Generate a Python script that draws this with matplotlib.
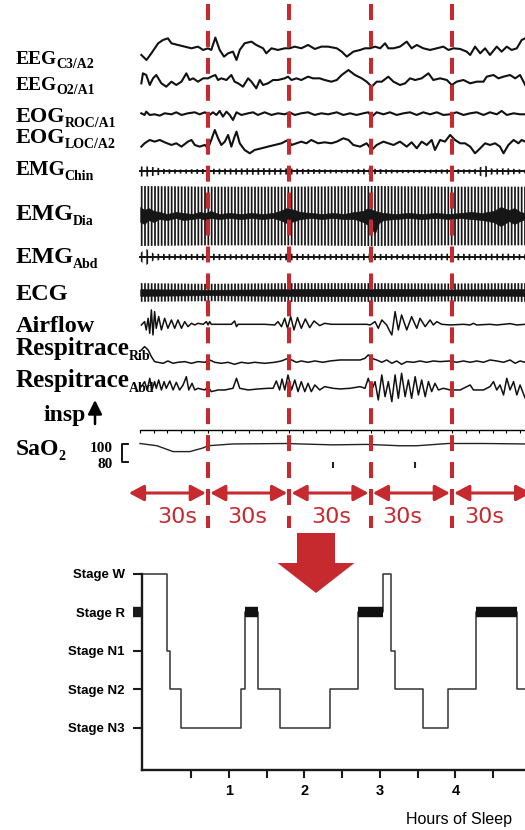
import numpy as np
import matplotlib
matplotlib.use('Agg')
import matplotlib.pyplot as plt
from matplotlib import font_manager
from matplotlib.patches import FancyArrow
from matplotlib.ticker import MultipleLocator

plt.rcParams['lines.scale_dashes'] = False
plt.rcParams['hatch.linewidth'] = 1.25

RED = '#c62a2f'
SERIF = 'Liberation Serif'
_names = {f.name for f in font_manager.fontManager.ttflist}
NARROW = 'Liberation Sans Narrow' if 'Liberation Sans Narrow' in _names else 'Liberation Sans'

# ---------------- PSG traces: time (s) and amplitude (arbitrary units) ----------------
eeg_c3_t = [5.4, 7.3, 9.1, 11.6, 13.4, 15.2, 16.5, 18.9, 21.4, 23.9, 26.3, 28.2, 30.0, 31.2, 32.7, 34.3,
            35.9, 37.4, 39.2, 40.5, 41.7, 43.5, 46.0, 47.8, 50.3, 51.5, 53.4, 55.8, 58.3, 60.1, 62.0, 64.4,
            66.9, 69.4, 71.8, 74.3, 77.5, 79.3, 81.2, 83.6, 86.1, 87.9, 89.8, 91.6, 93.5, 95.3, 96.5, 98.4,
            100.8, 103.3, 105.1, 107.0, 109.4, 111.9, 114.4, 116.8, 118.7, 120.5, 123.0, 125.4, 126.7, 128.5,
            130.4, 132.2, 134.0, 136.5, 138.3, 140.2, 142.0, 143.9, 145.7, 147.0]
eeg_c3_v = [-20, -35, -15, 15, 25, 30, 15, 10, 5, 0, 5, -5, 0, -5, 32, -5,
            -25, -15, -10, -35, -5, 15, 20, 10, 0, -15, 0, -5, 0, 0, 5, 0,
            10, -2, 5, 5, 0, -10, -25, -10, -5, 0, 0, 5, 0, 15, 0, 0,
            5, 20, 0, 10, 0, -5, 0, 5, -5, 0, -2, -10, -20, 5,
            -15, 0, -20, 5, -10, 5, -5, 0, 25, 30]

eeg_o2_t = [5.4, 6.0, 7.2, 8.5, 9.7, 10.9, 12.8, 14.6, 16.5, 18.3, 20.2, 22.0, 23.2, 24.5, 26.3, 28.2,
            30.0, 31.2, 32.7, 33.7, 34.9, 36.8, 38.6, 39.8, 41.1, 42.9, 44.8, 46.0, 47.8, 49.1, 50.3, 52.1,
            54.0, 55.8, 58.3, 59.5, 60.8, 62.6, 64.4, 66.9, 68.7, 71.2, 73.0, 75.5,
            77.5, 79.3, 81.8, 84.2, 86.7, 88.5, 90.4, 92.2, 94.1, 96.5, 98.4, 100.8, 102.7, 104.5, 106.4,
            108.8, 111.3, 113.1, 115.6, 118.1, 119.9, 121.7, 124.2, 126.7, 129.1, 131.6, 132.8, 135.3,
            137.1, 139.0, 141.4, 143.3, 145.1, 147.0]
eeg_o2_v = [-10, 20, 15, -15, 5, 15, -10, -20, -5, -15, -5, 20, 0, 5, -5, 5,
            5, 10, 15, 0, 5, 0, 15, -5, -10, -20, 5, -5, -25, 0, -15, -10,
            0, 0, 5, 10, 0, 5, 0, 10, 5, 5, 0, -5,
            0, 15, 30, 15, 5, -5, -20, -5, -5, 10, -5, -15, -10, 5, 0,
            5, 20, 0, 5, 0, -15, -5, 0, -10, -5, -5, 10, 15,
            5, 10, 15, 5, 15, -15]

eog_roc_t = [5.4, 6.6, 7.2, 8.5, 10.3, 12.2, 14.0, 16.5, 18.3, 20.2, 22.6, 25.1, 26.9, 28.8, 30.6, 31.8,
             33.1, 34.3, 35.5, 36.8, 38.0, 39.2, 40.5, 42.3, 44.8, 46.6, 48.4, 50.9, 53.4, 55.8, 58.3, 60.1,
             62.0, 64.4, 66.9, 69.4, 71.8, 74.3,
             77.5, 79.9, 82.4, 84.8, 87.3, 89.1, 90.4, 92.2, 94.7, 97.1, 99.6, 102.1, 104.5, 107.0, 109.4,
             111.9, 114.4, 116.8, 119.3, 121.7, 124.2, 126.7, 129.1, 131.6, 134.0, 136.5, 138.3, 140.2,
             142.7, 145.1, 147.0]
eog_roc_v = [3, -2, 8, -2, 0, -4, 3, 0, 6, -2, 3, 6, 0, 6, -2, 6,
             -2, 10, -7, 8, -2, -17, 6, -2, 3, 6, -2, 6, -2, 3, 0, 6,
             -2, 3, 6, -2, 3, 0,
             6, -2, 3, -2, 3, 6, -7, 6, 0, 6, -2, 3, 6, -2, 6,
             0, 6, -2, 0, 6, -2, 3, 6, -2, 6, 0, 10, -2,
             3, 0, 0]

eog_loc_t = [5.4, 6.6, 8.5, 10.3, 12.2, 14.0, 16.5, 18.3, 20.2, 22.6, 23.9, 25.1, 26.9, 28.8, 30.0, 31.2,
             32.5, 33.7, 34.9, 36.2, 37.4, 38.6, 39.8, 40.5, 41.7, 43.5, 45.4, 47.2, 49.7, 52.1, 54.6, 57.1,
             59.5, 60.8, 62.6, 64.4, 66.3, 68.1, 70.6, 73.0, 75.5,
             77.5, 79.9, 81.8, 83.6, 86.1, 88.5, 90.4, 92.2, 94.7, 96.5, 98.4, 100.8, 103.3, 105.1, 107.0,
             108.8, 110.7, 112.5, 113.7, 115.6, 117.4, 119.3, 121.1, 123.0, 124.8, 126.7, 128.5, 130.4,
             132.2, 134.0, 135.9, 137.7, 139.0, 140.8, 142.7, 144.5, 145.7, 147.0]
eog_loc_v = [-10, 0, 10, 5, 10, 3, -5, 0, -10, 5, 10, -5, -10, -5, -15, 10,
             40, 15, -5, 5, 25, -10, 20, 35, 0, -20, -30, -20, -15, -10, -5, 0,
             10, -5, 0, 5, 0, 10, 0, 3, 0,
             5, 15, 10, -5, -10, 0, -20, -5, 5, 0, -5, 5, -10, 3, -15,
             5, -5, 10, -20, 10, 5, 25, 10, 0, 0, -10, -30, -15,
             0, -5, 0, -10, -30, -5, 10, 0, 10, 5]

airflow_t = [5.4, 6.6, 7.2, 7.9, 8.5, 9.1, 9.7, 10.3, 10.9, 11.8, 12.8, 14.0, 15.2, 16.5, 17.7, 18.9,
             20.2, 21.4, 22.6, 23.9, 25.1, 26.3, 28.2, 29.4, 30.0, 30.6, 31.2, 33.7, 36.2, 38.6, 39.8, 40.5,
             41.1, 46.0, 50.9, 54.6, 55.8, 57.1, 58.3, 59.3, 60.5, 61.7, 63.0, 64.4, 65.9, 67.5, 69.1, 71.2,
             73.0, 75.5, 88.5, 89.8, 91.6, 92.8, 94.1, 95.9, 97.1, 97.8, 99.0, 100.2, 101.4, 103.3, 105.1,
             107.0, 108.2, 110.1, 111.9, 113.1, 114.4, 116.2, 119.3, 124.2, 126.7, 127.9, 129.1, 134.0,
             136.5, 139.0, 141.4, 143.9, 147.0]
airflow_v = [-2, 8, -17, 18, -27, 43, -32, 38, -12, 23, -17, 18, -12, 13, -12, 13,
             -12, 8, -7, 3, -2, 3, 0, 8, -2, 8, 0, 0, 0, 0, 10, -7,
             0, 0, 0, -2, 8, -7, 18, -12, 23, -17, 20, -12, 16, -10, 10, -4,
             3, 0, 0, -2, 8, -12, 13, -2, -22, -32, 38, -17, 28, -17, 23,
             -12, 18, -7, 13, -2, 8, 0, -2, 0, -2, 3, -2, 0,
             -2, 0, 2, -2, 0]

rib_t = [5.4, 6.6, 7.9, 9.1, 10.3, 11.5, 13.4, 15.2, 17.1, 18.9, 21.4, 23.9, 26.3, 28.8, 30.6, 32.5,
         34.9, 37.4, 39.8, 42.3, 44.8, 47.2, 50.9, 54.6, 57.1, 59.5, 60.8, 62.6, 64.4, 66.9, 69.4, 72.4,
         75.0, 78.7, 82.4, 86.1, 87.9, 89.1, 90.4, 92.2, 94.1, 95.9, 97.8, 99.6, 101.4, 103.3, 105.8,
         108.2, 110.7, 113.1, 115.6, 119.3, 121.7, 124.2, 126.7, 129.1, 131.6, 134.0, 136.5, 139.0,
         141.4, 143.3, 145.1, 147.0]
rib_v = [37, 47, 37, 17, 2, 0, -3, 4, -3, 0, 2, -3, 2, 0, 7, 0,
         -3, 0, -6, 0, -3, 0, -3, 0, 4, 12, 7, 0, 4, 0, 4, 0,
         4, 7, 7, 7, 12, 22, 12, 7, 0, 7, -3, 4, -6, 2, 0,
         4, 0, 4, 2, 4, 0, 4, 0, 4, 0, 7, 4, 0,
         7, -3, 4, 0]

rabd_t = [5.4, 6.6, 7.6, 8.5, 9.3, 10.3, 10.9, 11.8, 12.8, 13.8, 14.6, 15.9, 17.1, 18.3, 19.5, 20.8,
          22.0, 22.9, 24.1, 25.1, 26.3, 28.8, 30.0, 31.2, 33.7, 36.2, 39.2, 40.5, 41.7, 44.8, 48.4, 52.1,
          54.0, 55.2, 56.4, 57.3, 58.3, 59.5, 60.8, 62.0, 63.2, 64.4, 65.7, 66.9, 68.1, 69.4, 71.2, 73.0,
          76.1, 78.7, 82.4, 86.1, 87.9, 89.1, 90.4, 91.6, 92.8, 94.1, 95.3, 96.5, 97.8, 99.0, 100.2,
          101.4, 102.7, 103.9, 105.1, 106.4, 107.6, 108.8, 110.1, 111.3, 112.5, 113.7, 115.0, 116.8,
          119.3, 123.0, 126.7, 127.9, 131.6, 134.0, 135.3, 136.5, 137.7, 139.0, 140.2, 141.4, 142.7,
          143.9, 145.1, 147.0]
rabd_v = [5, 20, -5, 30, -5, 20, 0, 25, -5, 20, 0, 22, -5, 18, -5, 10,
          35, -5, 15, -5, 0, -5, 5, -10, -5, -5, 0, 30, 0, -5, -2, 0,
          0, 22, -5, 28, -5, 40, -5, 25, -10, 20, -10, 15, -10, 10, -5, 5,
          0, -2, 0, 5, 0, 30, -5, 20, -35, 40, -25, 20, -40, 40, -30,
          45, -25, 25, -30, 35, -20, 25, -25, 20, -10, 15, -5, 0,
          -5, -5, 10, -5, -5, 5, 20, -5, 10, -20, 30, -5, 20,
          -20, 10, -30]

sao2_t = [4.9, 11.2, 17.1, 23.3, 28.1, 30.0, 39.2, 59.2, 63.9, 76.1, 88.6, 100.8, 107.0, 118.5, 131.4, 147.0]
sao2_v = [100, 97.5, 91, 91, 95, 97.5, 99.5, 100, 99.5, 98.5, 99, 97.5, 97.5, 100, 100, 99.5]
sao2_drop_t = [76.1, 106.3]
sao2_drop_v = [76, 76]

# EMG / ECG envelopes (half amplitude, arbitrary units)
chin_t = [5, 8, 11, 14, 20, 30, 40, 50, 60, 70, 80, 89, 100, 110, 120, 128, 132, 135, 140, 147]
chin_amp = [15, 15, 12, 7, 6, 8, 9, 10, 9, 7, 5, 9, 5, 5, 7, 6, 18, 8, 10, 5]
dia_t = [5, 30, 60, 90, 120, 147]
dia_amp = [90, 88, 88, 90, 88, 88]
dia_core_t = [5, 6.5, 8, 10, 12, 15, 18, 21, 24, 27, 29, 31, 34, 38, 42, 46, 50, 54, 56.6, 59,
              62, 64, 68, 72, 76, 80, 84, 87.3, 89, 91.6, 93, 94.7, 99, 104, 109, 114, 119, 123, 127, 131,
              135.3, 138, 141, 143, 145.1, 147]
dia_core_up = [27, 18, 24, 15, 12, 6, 12, 9, 6, 12, 9, 15, 6, 9, 6, 9, 6, 9, 15, 24,
               18, 12, 9, 6, 9, 6, 12, 15, 24, 15, 12, 9, 6, 9, 6, 9, 6, 9, 12, 9,
               15, 27, 18, 24, 12, 9]
dia_core_lo = [18, 24, 12, 18, 9, 12, 6, 12, 9, 6, 12, 6, 9, 6, 9, 6, 9, 6, 12, 21,
               15, 9, 6, 9, 6, 9, 9, 18, 27, 51, 21, 12, 9, 6, 9, 6, 9, 6, 9, 12,
               18, 30, 15, 24, 15, 9]
abd_t = [5, 7, 10, 20, 30, 40, 50, 60, 70, 80, 90, 100, 110, 120, 130, 140, 147]
abd_amp = [12, 25, 10, 8, 10, 8, 9, 10, 8, 9, 10, 8, 9, 10, 9, 10, 8]
ecg_t = [5, 30, 60, 90, 120, 147]
ecg_amp = [28, 26, 28, 28, 27, 28]
ecg_core = [10, 8, 10, 11, 9, 10]

epoch_edges = [0, 30, 60, 90, 120, 150]
epoch_label = '30s'

label_main = ['EEG', 'EEG', 'EOG', 'EOG', 'EMG', 'EMG', 'EMG', 'ECG', 'Airflow', 'Respitrace', 'Respitrace', 'SaO']
label_sub = ['C3/A2', 'O2/A1', 'ROC/A1', 'LOC/A2', 'Chin', 'Dia', 'Abd', '', '', 'Rib', 'Abd', '2']

# ---------------- hypnogram ----------------
stage_names = ['Stage N3', 'Stage N2', 'Stage N1', 'Stage R', 'Stage W']
hyp_start = [-0.15, 0.175, 0.22, 0.36, 1.16, 1.21, 1.39, 1.675, 2.34, 2.71, 3.04, 3.15, 3.20, 3.57, 3.90, 4.27, 4.81]
hyp_stage = ['W', 'N1', 'N2', 'N3', 'N2', 'R', 'N2', 'N3', 'N2', 'R', 'W', 'N1', 'N2', 'N3', 'N2', 'R', 'N2']
hyp_end = 4.95
hour_ticks = [1, 2, 3, 4]

# ---------------- layout ----------------
W, H = 525, 830
T0_PX, PX_PER_S = 126.7, 2.711
GAIN = 1 / 3.0

fig = plt.figure(figsize=(W / 100, H / 100), dpi=100)
ax_px = fig.add_axes([0, 0, 1, 1], label='px')
ax_px.set_xlim(0, W)
ax_px.set_ylim(H, 0)
ax_px.axis('off')

ax = fig.add_axes([0, 0, 1, 1], label='sig')
ax.set_xlim(-T0_PX / PX_PER_S, (W - T0_PX) / PX_PER_S)
ax.set_ylim(H, 0)
ax.axis('off')


def trace(t, v, base, lw=1.3):
    ax.plot(t, base - GAIN * np.array(v), color='#111111', lw=lw, solid_joinstyle='round')


def band(t, amp, base, hatch):
    a = GAIN * np.array(amp)
    ax.fill_between(t, base - a, base + a, facecolor='none', edgecolor='#151515', hatch=hatch, lw=0)


def core(t, up, lo, base):
    ax.fill_between(t, base - GAIN * np.array(up), base + GAIN * np.array(lo), color='#161616', lw=0.5)


trace(eeg_c3_t, eeg_c3_v, 48.3, 1.5)
trace(eeg_o2_t, eeg_o2_v, 80, 1.5)
trace(eog_roc_t, eog_roc_v, 114.3, 1.5)
trace(eog_loc_t, eog_loc_v, 143.3, 1.5)

band(chin_t, chin_amp, 171.5, '|||')
ax.plot(chin_t, [171.5] * len(chin_t), color='#111111', lw=1.4)
band(dia_t, dia_amp, 216, '|||||')
core(dia_core_t, dia_core_up, dia_core_lo, 216)
band(abd_t, abd_amp, 257, '|||')
ax.plot(abd_t, [257] * len(abd_t), color='#111111', lw=1.4)
band(ecg_t, ecg_amp, 292.5, '|||||')
core(ecg_t, ecg_core, ecg_core, 292.5)

trace(airflow_t, airflow_v, 324.3, 1.1)
trace(rib_t, rib_v, 362.3, 1.1)
trace(rabd_t, rabd_v, 388.3, 1.1)

SAO2_Y100, SAO2_PX = 443.5, 0.9
ax.plot(sao2_t, SAO2_Y100 + SAO2_PX * (100 - np.array(sao2_v)), color='#222222', lw=1.0)
ax.plot(sao2_drop_t, SAO2_Y100 + SAO2_PX * (100 - np.array(sao2_drop_v)), '|', color='#222222', ms=4, mew=1.5)

# time-mark channel
tm0 = (140 - T0_PX) / PX_PER_S
ax_tm = fig.add_axes([140 / W, 1 - 430 / H, (W - 140) / W, 1e-4])
ax_tm.set_xlim(tm0, (W - T0_PX) / PX_PER_S)
ax_tm.patch.set_visible(False)
for s in ['top', 'left', 'right']:
    ax_tm.spines[s].set_visible(False)
ax_tm.spines['bottom'].set_linewidth(1.0)
ax_tm.xaxis.set_major_locator(MultipleLocator(5))
ax_tm.tick_params(axis='x', direction='out', length=2.5, width=0.8, labelbottom=False)
ax_tm.set_yticks([])

# epoch boundaries
for b in epoch_edges[1:-1]:
    ax.plot([b, b], [4, 528], color=RED, lw=2.9, dashes=(11.5, 7.9), zorder=5)
for a, b in zip(epoch_edges[:-1], epoch_edges[1:]):
    ax.annotate('', xy=(b, 493), xytext=(a, 493), annotation_clip=False,
                arrowprops=dict(arrowstyle='<|-|>,head_length=0.45,head_width=0.24', color=RED,
                                lw=2.2, shrinkA=1.5, shrinkB=1.5, mutation_scale=20))
for x in [177, 247, 331, 402, 484]:
    ax_px.text(x, 517, epoch_label, color=RED, fontsize=16, family='DejaVu Sans', ha='center', va='center')

# channel labels
lab_size = [14, 14, 16, 16, 15, 17.5, 17.5, 17.5, 17.5, 18, 18, 17]
lab_base = [64, 90, 122, 143, 175, 220, 263, 300, 332, 355, 387, 455]
for m, s, fs, yb in zip(label_main, label_sub, lab_size, lab_base):
    txt = ax_px.text(16, yb, m, fontsize=fs, fontweight='bold', family=SERIF, va='baseline')
    if s:
        ax_px.annotate(s, xy=(1, 0), xycoords=txt, xytext=(-0.8, 0), textcoords='offset points',
                       fontsize=10, fontweight='bold', family=SERIF, va='baseline')

ax_px.text(43, 421, 'insp', fontsize=17, fontweight='bold', family=SERIF, va='baseline')
ax_px.annotate('', xy=(95, 400), xytext=(95, 424),
               arrowprops=dict(arrowstyle='-|>,head_length=0.6,head_width=0.3', color='black',
                               lw=1.8, shrinkA=0, shrinkB=0, mutation_scale=14))
ax_px.text(113, 452, '100', fontsize=11, fontweight='bold', family=SERIF, ha='right', va='baseline')
ax_px.text(113, 468, '80', fontsize=11, fontweight='bold', family=SERIF, ha='right', va='baseline')
y80 = SAO2_Y100 + SAO2_PX * 20
ax_px.plot([128, 122, 122, 128], [SAO2_Y100, SAO2_Y100, y80, y80], color='black', lw=1.3)

# big arrow
ax_px.add_patch(FancyArrow(316, 533, 0, 60, width=38, head_width=77, head_length=30,
                           length_includes_head=True, color=RED, lw=0))

# ---------------- hypnogram axes ----------------
H_PER_PX = 75.5
axh = fig.add_axes([142 / W, (H - 770) / H, (W - 142) / W, 200.2 / H])
axh.patch.set_visible(False)
axh.set_xlim(-0.152, -0.152 + (W - 142) / H_PER_PX)
axh.set_ylim(-1.1, 4.1)
level = {'N3': 0, 'N2': 1, 'N1': 2, 'R': 3, 'W': 4}
xs = hyp_start + [hyp_end]
ys = [level[s] for s in hyp_stage]
axh.step(xs, ys + [ys[-1]], where='post', color='#333333', lw=1.1)
for i, s in enumerate(hyp_stage):
    if s == 'R':
        axh.plot([xs[i], xs[i + 1]], [3, 3], color='#111111', lw=7.5, solid_capstyle='butt')

for s in ['top', 'right']:
    axh.spines[s].set_visible(False)
for s in ['left', 'bottom']:
    axh.spines[s].set_linewidth(1.7)
    axh.spines[s].set_color('#1a1a1a')
axh.spines['left'].set_bounds(-1.1, 4)
axh.set_yticks(range(5))
axh.set_yticklabels(stage_names, fontsize=9.5, fontweight='bold', family=NARROW)
axh.set_xticks(hour_ticks)
axh.set_xticklabels([str(h) for h in hour_ticks], fontsize=10.5, fontweight='bold', family=NARROW)
axh.set_xticks([h + 0.5 for h in [0] + hour_ticks], minor=True)
axh.tick_params(axis='y', direction='out', length=6.5, width=1.5, pad=6, color='#1a1a1a')
axh.tick_params(axis='x', which='both', direction='out', length=6, width=1.5, pad=4, color='#1a1a1a')
axh.yaxis.get_major_ticks()[3].tick1line.set_markeredgewidth(7.5)
axh.yaxis.get_major_ticks()[3].tick1line.set_color('#111111')
axh.text((512 - 142) / (W - 142), -0.245, 'Hours of Sleep', transform=axh.transAxes,
         ha='right', va='center', fontsize=11.5, family=NARROW)

fig.savefig('out.png', dpi=100)
